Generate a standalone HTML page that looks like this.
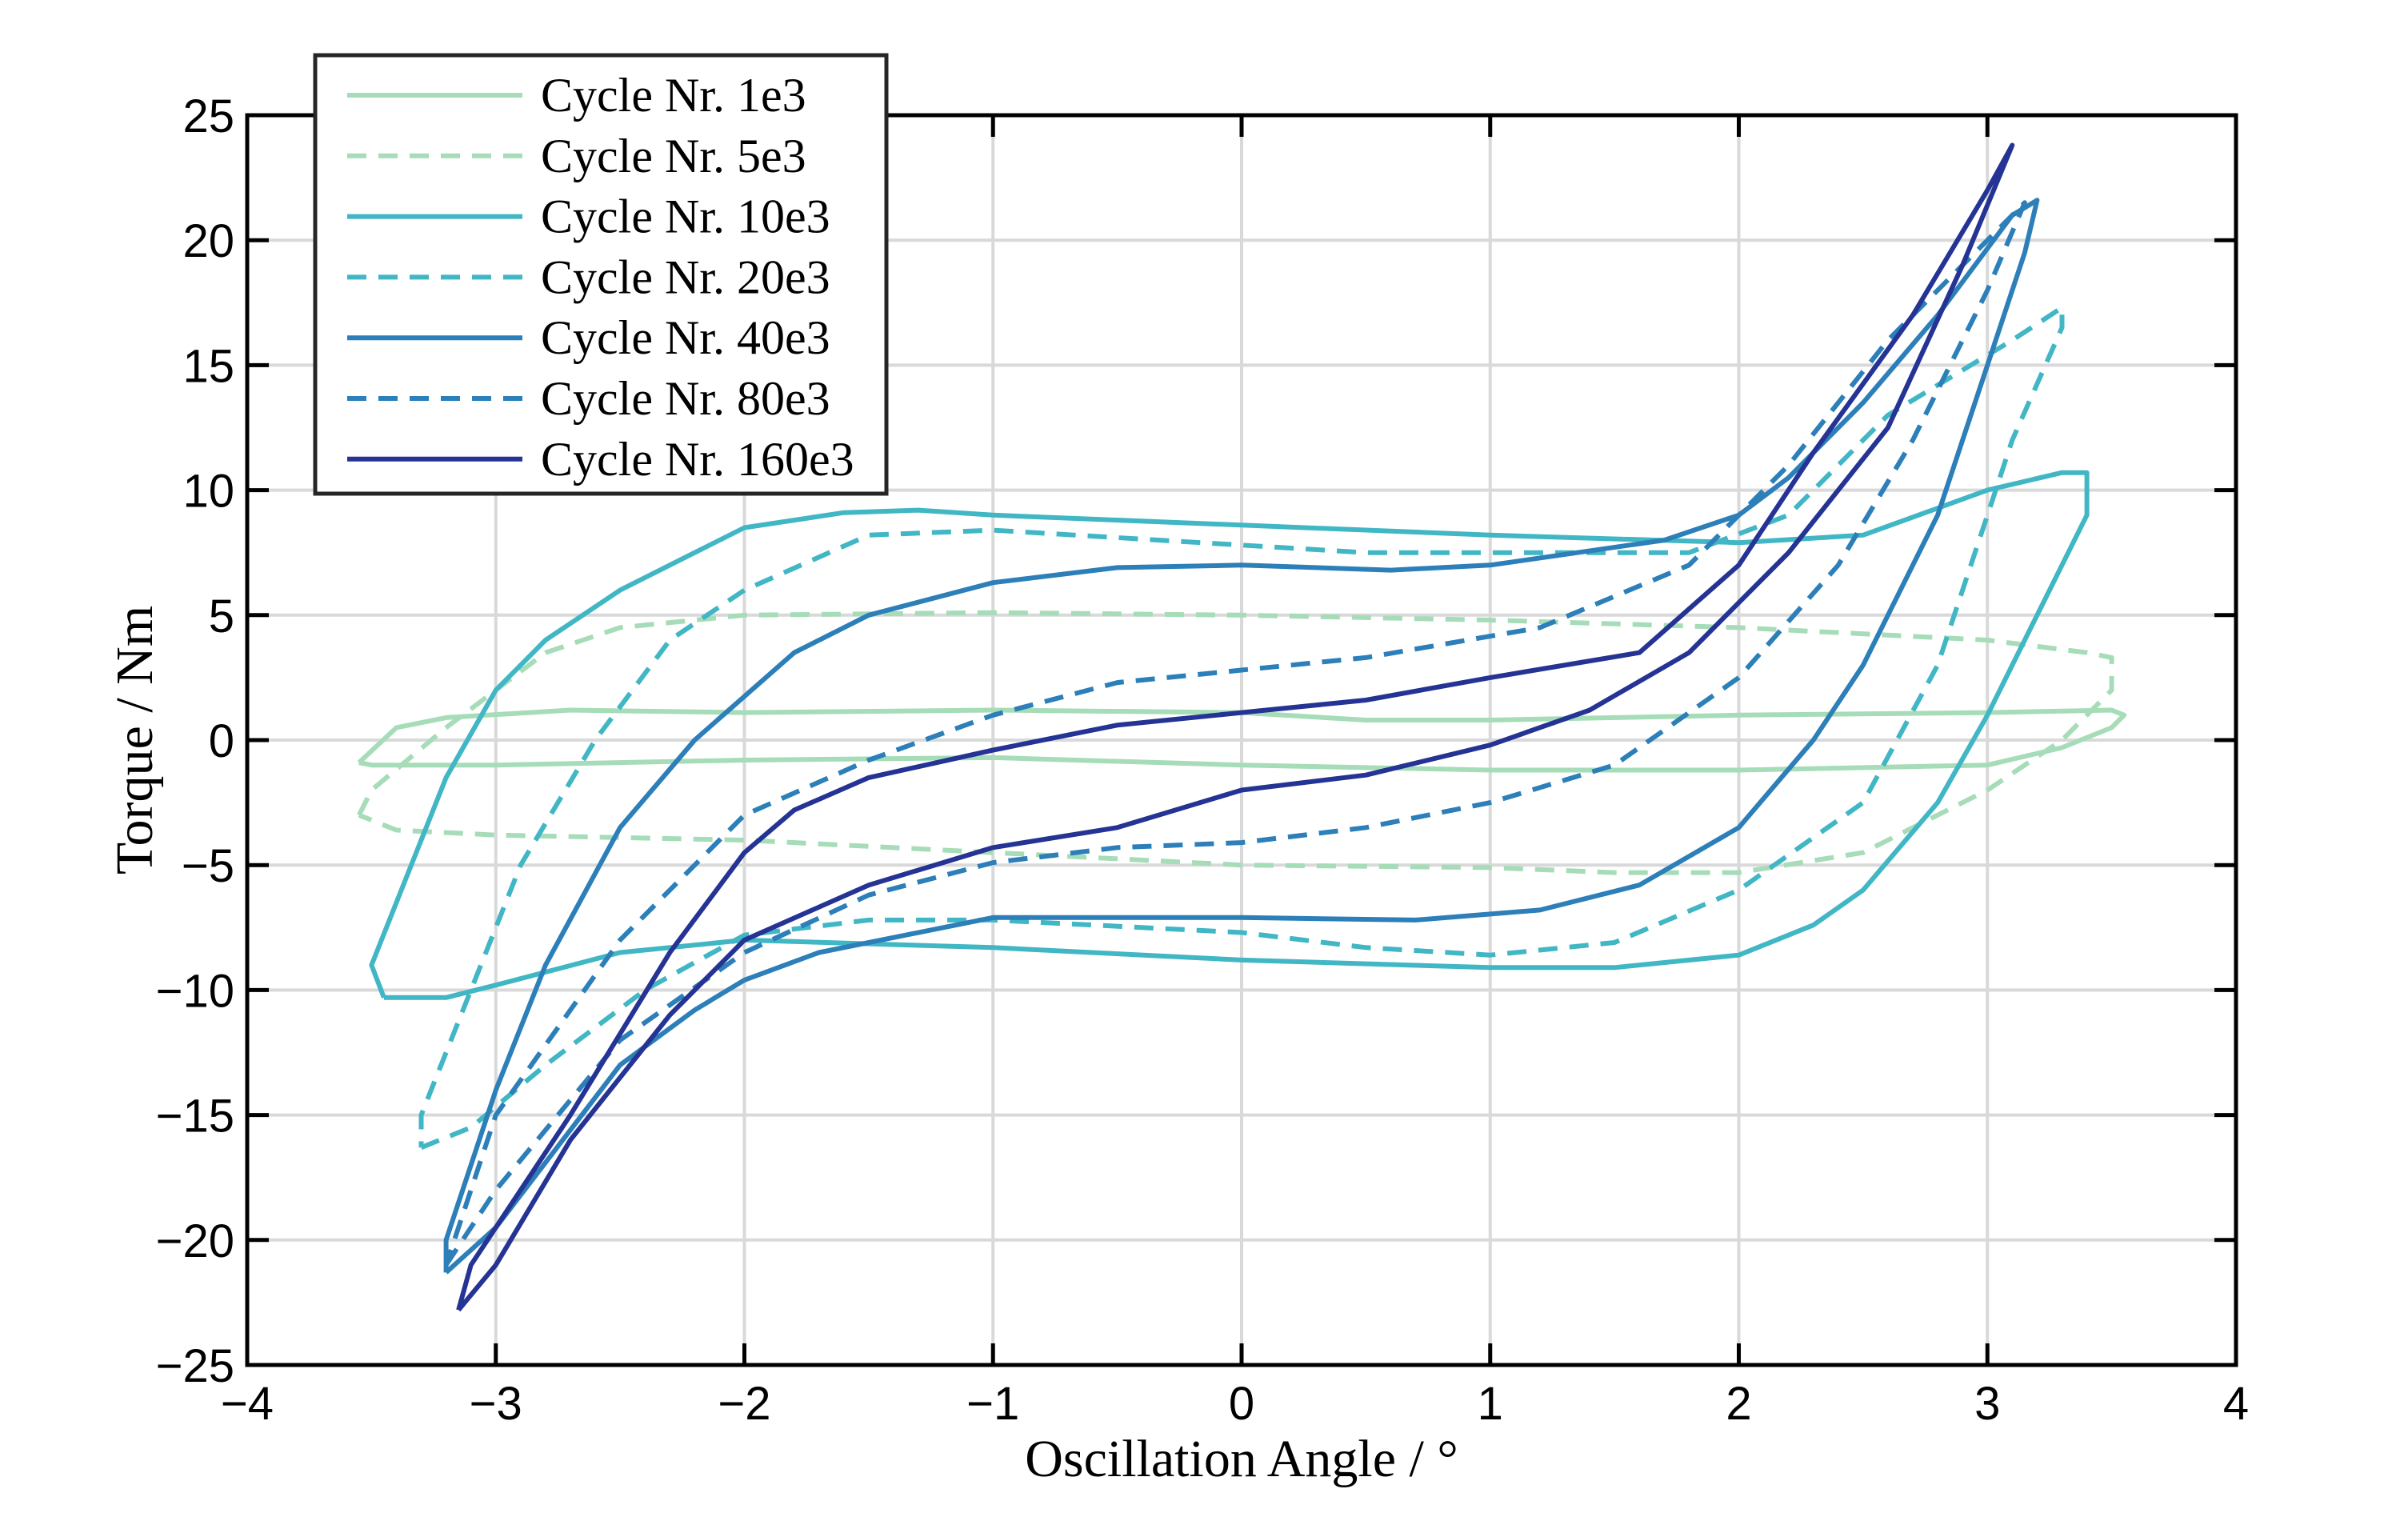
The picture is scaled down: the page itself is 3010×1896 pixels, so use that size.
<!DOCTYPE html>
<html><head><meta charset="utf-8"><style>
html,body{margin:0;padding:0;background:#fff;}
svg{display:block;}
</style></head><body>
<svg id="chart" width="3010" height="1896" xmlns="http://www.w3.org/2000/svg">
<rect width="3010" height="1896" fill="#fff"/>
<g id="grid"></g>
<g id="series"></g>
<g id="axes"></g>
<g id="legend"></g>
</svg>
<script>
const xTicks=[-4,-3,-2,-1,0,1,2,3,4];
const yTicks=[-25,-20,-15,-10,-5,0,5,10,15,20,25];
const seriesNames=['Cycle Nr. 1e3','Cycle Nr. 5e3','Cycle Nr. 10e3','Cycle Nr. 20e3','Cycle Nr. 40e3','Cycle Nr. 80e3','Cycle Nr. 160e3'];
const seriesColors=['#a6dcb8','#a6dcb8','#41b6c4','#41b6c4','#2c7fb8','#2c7fb8','#253494'];
const seriesDashed=[false,true,false,true,false,true,false];
const c1e3=[[-3.55,-0.9],[-3.4,0.5],[-3.2,0.9],[-2.7,1.2],[-2,1.1],[-1,1.2],[0,1.1],[0.5,0.8],[1,0.8],[2,1.0],[3,1.1],[3.5,1.2],[3.55,1.0],[3.5,0.5],[3.3,-0.3],[3,-1.0],[2,-1.2],[1,-1.2],[0,-1.0],[-1,-0.7],[-2,-0.8],[-3,-1.0],[-3.5,-1.0],[-3.55,-0.9]];
const c5e3=[[-3.55,-3],[-3.5,-2],[-3.2,0.5],[-3,2],[-2.8,3.5],[-2.5,4.5],[-2,5],[-1,5.1],[0,5],[1,4.8],[2,4.5],[3,4],[3.4,3.5],[3.5,3.3],[3.5,2],[3.3,0],[3,-2],[2.8,-3],[2.5,-4.5],[2,-5.3],[1.5,-5.3],[1,-5.1],[0,-5],[-1,-4.5],[-2,-4],[-3,-3.8],[-3.4,-3.6],[-3.55,-3]];
const c10e3=[[-3.45,-10.3],[-3.2,-10.3],[-3,-9.8],[-2.5,-8.5],[-2,-8],[-1,-8.3],[0,-8.8],[1,-9.1],[1.5,-9.1],[2,-8.6],[2.3,-7.4],[2.5,-6],[2.8,-2.5],[3,1],[3.2,5],[3.4,9],[3.4,10.7],[3.3,10.7],[3,10],[2.5,8.2],[2,7.9],[1,8.2],[0,8.6],[-1,9],[-1.3,9.2],[-1.6,9.1],[-2,8.5],[-2.2,7.5],[-2.5,6],[-2.8,4],[-3,2],[-3.2,-1.5],[-3.3,-4],[-3.5,-9],[-3.45,-10.3]];
const c20e3=[[-3.3,-16.3],[-3.1,-15.5],[-2.8,-13],[-2.4,-10],[-2,-7.8],[-1.5,-7.2],[-1,-7.2],[0,-7.7],[0.5,-8.3],[1,-8.6],[1.5,-8.1],[2,-6],[2.5,-2.5],[2.8,3],[3,9],[3.1,12],[3.3,16.5],[3.3,17.3],[3.1,16],[2.6,13],[2.2,9],[1.8,7.5],[1.2,7.5],[0.5,7.5],[0,7.8],[-1,8.4],[-1.5,8.2],[-2,6],[-2.3,4],[-2.6,0],[-2.9,-5],[-3.1,-10],[-3.3,-15],[-3.3,-16.3]];
const c40e3=[[-3.2,-21.3],[-3,-19.5],[-2.5,-13],[-2.2,-10.8],[-2,-9.6],[-1.7,-8.5],[-1,-7.1],[0,-7.1],[0.7,-7.2],[1.2,-6.8],[1.6,-5.8],[2,-3.5],[2.3,0],[2.5,3],[2.8,9],[3,15],[3.15,19.5],[3.2,21.6],[3.1,21],[2.8,17],[2.5,13.5],[2.2,10.5],[2,9],[1.7,8],[1,7],[0.6,6.8],[0,7],[-0.5,6.9],[-1,6.3],[-1.5,5],[-1.8,3.5],[-2.2,0],[-2.5,-3.5],[-2.8,-9],[-3,-14],[-3.2,-20],[-3.2,-21.3]];
const c80e3=[[-3.2,-21],[-3,-18],[-2.5,-12],[-2,-8.5],[-1.5,-6.2],[-1,-4.9],[-0.5,-4.3],[0,-4.1],[0.5,-3.5],[1,-2.5],[1.5,-1],[2,2.5],[2.4,7],[2.7,12],[3,18],[3.15,21.5],[3,20],[2.6,16],[2.2,11],[1.8,7],[1.2,4.5],[0.5,3.3],[0,2.8],[-0.5,2.3],[-1,1],[-1.5,-0.8],[-2,-3],[-2.5,-8],[-3,-15],[-3.2,-21]];
const c160e3=[[-3.15,-22.8],[-3,-21],[-2.7,-16],[-2.3,-11],[-2,-8],[-1.5,-5.8],[-1,-4.3],[-0.5,-3.5],[0,-2.0],[0.5,-1.4],[1,-0.2],[1.4,1.2],[1.8,3.5],[2.2,7.5],[2.6,12.5],[2.9,19],[3.1,23.8],[3,22],[2.7,17],[2.3,11.5],[2,7],[1.6,3.5],[1,2.5],[0.5,1.6],[0,1.1],[-0.5,0.6],[-1,-0.4],[-1.5,-1.5],[-1.8,-2.8],[-2,-4.5],[-2.3,-8.5],[-2.7,-15],[-3.1,-21],[-3.15,-22.8]];
const seriesData=[c1e3,c5e3,c10e3,c20e3,c40e3,c80e3,c160e3];

const L=309,R=2795,T=144,B=1706;
const X0=-4,X1=4,Y0=-25,Y1=25;
function sx(v){return L+(v-X0)/(X1-X0)*(R-L);}
function sy(v){return B-(v-Y0)/(Y1-Y0)*(B-T);}
const NS='http://www.w3.org/2000/svg';
function mk(tag,attrs,parent){const e=document.createElementNS(NS,tag);for(const k in attrs)e.setAttribute(k,attrs[k]);parent.appendChild(e);return e;}
const grid=document.getElementById('grid'),axes=document.getElementById('axes'),ser=document.getElementById('series'),leg=document.getElementById('legend');

xTicks.forEach(t=>{
  const g=mk('line',{x1:sx(t),x2:sx(t),y1:T,y2:B,stroke:'#d9d9d9','stroke-width':4},grid);
  
  
  const tk=mk('line',{x1:sx(t),x2:sx(t),y1:B,y2:B-27,stroke:'#000','stroke-width':5},axes);
  
  
  const tk2=mk('line',{x1:sx(t),x2:sx(t),y1:T,y2:T+27,stroke:'#000','stroke-width':5},axes);
  
  
  const tx=mk('text',{x:sx(t),y:1774,'text-anchor':'middle','font-family':'Liberation Sans, sans-serif','font-size':58,fill:'#000'},axes);
  tx.textContent=(t<0?'\u2212'+(-t):String(t));
  
  
});
yTicks.forEach(t=>{
  const g=mk('line',{x1:L,x2:R,y1:sy(t),y2:sy(t),stroke:'#d9d9d9','stroke-width':4},grid);
  
  
  const tk=mk('line',{x1:L,x2:L+27,y1:sy(t),y2:sy(t),stroke:'#000','stroke-width':5},axes);
  
  
  const tk2=mk('line',{x1:R,x2:R-27,y1:sy(t),y2:sy(t),stroke:'#000','stroke-width':5},axes);
  
  
  const tx=mk('text',{x:293,y:sy(t)+21,'text-anchor':'end','font-family':'Liberation Sans, sans-serif','font-size':58,fill:'#000'},axes);
  tx.textContent=(t<0?'\u2212'+(-t):String(t));
  
  
});
const fr=mk('rect',{x:L,y:T,width:R-L,height:B-T,fill:'none',stroke:'#000','stroke-width':5},axes);


const xl=mk('text',{x:1552,y:1845,'text-anchor':'middle','font-family':'Liberation Serif, serif','font-size':66,fill:'#000'},axes);
xl.textContent='Oscillation Angle / \u00B0';


const yl=mk('text',{x:0,y:0,transform:'translate(190,925) rotate(-90)','text-anchor':'middle','font-family':'Liberation Serif, serif','font-size':66,fill:'#000'},axes);
yl.textContent='Torque / Nm';



seriesData.forEach((d,i)=>{
  const p=d.map((pt,j)=>(j?'L':'M')+sx(pt[0]).toFixed(1)+' '+sy(pt[1]).toFixed(1)).join(' ');
  const a={d:p,fill:'none',stroke:seriesColors[i],'stroke-width':6,'stroke-linejoin':'round'};
  if(seriesDashed[i])a['stroke-dasharray']='24 15';
  const e=mk('path',a,ser);
  
  
});

const lb=mk('rect',{x:394,y:69,width:714,height:548,fill:'#fff',stroke:'#262626','stroke-width':5},leg);


seriesNames.forEach((n,i)=>{
  const y=119+i*75.8;
  const a={x1:434,x2:653,y1:y,y2:y,stroke:seriesColors[i],'stroke-width':6};
  if(seriesDashed[i])a['stroke-dasharray']='24 15';
  const ln=mk('line',a,leg);
  
  
  const t=mk('text',{x:676,y:y+20,'font-family':'Liberation Serif, serif','font-size':60,fill:'#000'},leg);
  t.textContent=n;
  
  
});
</script>
</body></html>
